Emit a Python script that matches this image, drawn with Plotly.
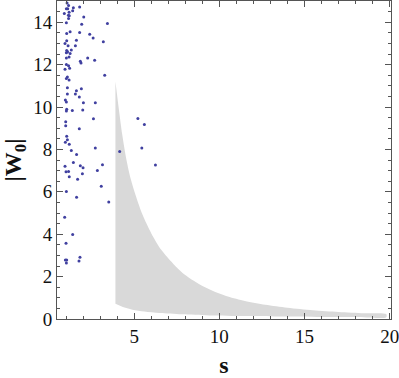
import plotly.graph_objects as go

# scatter points (s, |W0|)
pts_s = [1.06, 1.15, 1.02, 1.10, 1.43, 1.80, 1.39, 1.18, 0.90, 1.14, 1.19, 2.04, 1.15, 1.02, 1.92,
         3.43, 1.24, 1.04, 1.80, 2.39, 2.59, 1.61, 1.04, 3.19, 0.94, 1.12, 1.55, 1.31, 1.04, 1.09,
         1.02, 1.24, 1.18, 1.02, 2.27, 2.68, 1.84, 1.88, 1.02, 1.15, 1.21, 0.94, 3.27, 1.08, 1.02,
         1.18, 1.08, 1.90, 1.61, 1.08, 1.55, 1.78, 0.96, 1.02, 2.02, 2.72, 1.04, 1.02, 1.37, 1.98,
         2.61, 5.22, 5.60, 0.98, 0.98, 1.78, 1.04, 1.08, 0.96, 1.19, 2.72, 4.15, 5.45, 1.31, 1.62,
         6.25, 3.14, 3.07, 0.94, 1.43, 1.84, 2.00, 1.00, 1.15, 1.96, 2.84, 1.19, 1.68, 1.02, 1.62,
         3.51, 0.92, 1.39, 1.00, 0.96, 1.04, 1.02, 1.82, 1.76]
pts_w = [14.91, 14.79, 14.63, 14.63, 14.68, 14.72, 14.54, 14.47, 14.41, 14.33, 14.30, 14.24, 14.18, 13.97, 13.90,
         13.94, 13.55, 13.47, 13.52, 13.43, 13.25, 13.15, 13.13, 13.08, 12.99, 12.89, 12.89, 12.69, 12.66, 12.61,
         12.56, 12.52, 12.36, 12.31, 12.31, 12.21, 12.16, 12.08, 12.00, 11.95, 11.83, 11.78, 11.50, 11.41, 11.34,
         11.27, 10.91, 10.86, 10.77, 10.61, 10.61, 10.47, 10.33, 10.23, 10.20, 10.20, 9.89, 9.81, 9.83, 9.86,
         9.45, 9.46, 9.18, 9.31, 9.11, 8.97, 8.62, 8.46, 8.34, 8.24, 8.07, 7.90, 8.07, 7.95, 7.76,
         7.27, 7.28, 6.26, 7.20, 7.38, 7.23, 7.14, 6.95, 6.96, 6.85, 7.01, 6.71, 6.59, 6.01, 5.74,
         5.52, 4.80, 3.99, 3.57, 2.78, 2.78, 2.64, 2.91, 2.74]

# shaded region boundaries
upper_s = [3.9, 4.1, 4.3, 4.55, 4.8, 5.1, 5.5, 6.0, 6.6, 7.3, 8.0, 8.8, 9.6, 10.5, 11.5, 12.7, 14.0, 15.5, 17.0, 18.5, 19.8]
upper_w = [11.2, 9.9, 8.7, 7.5, 6.6, 5.8, 4.9, 4.05, 3.25, 2.6, 2.07, 1.65, 1.33, 1.06, 0.85, 0.67, 0.53, 0.41, 0.33, 0.27, 0.23]
lower_s = [3.9, 4.3, 4.9, 5.6, 6.5, 7.8, 9.4, 11.5, 13.5, 16.0, 18.0, 19.8]
lower_w = [0.72, 0.58, 0.44, 0.35, 0.28, 0.22, 0.17, 0.14, 0.12, 0.10, 0.09, 0.085]

x_ticks = [5, 10, 15, 20]
y_ticks = [0, 2, 4, 6, 8, 10, 12, 14]

fig = go.Figure()
fig.add_trace(go.Scatter(
    x=upper_s + lower_s[::-1], y=upper_w + lower_w[::-1],
    fill="toself", fillcolor="#d9d9d9", mode="lines",
    line=dict(width=0, color="#d9d9d9", shape="spline", smoothing=0.8), hoverinfo="skip"))
fig.add_trace(go.Scatter(
    x=pts_s, y=pts_w, mode="markers",
    marker=dict(size=3, color="#4040a0")))

axis_common = dict(
    showgrid=False, zeroline=False, showline=True, linecolor="#555555", linewidth=1,
    mirror="allticks", ticks="inside", tickcolor="#555555", ticklen=6, tickwidth=1,
    ticklabeloverflow="allow",
    tickfont=dict(family="Liberation Serif", size=19, color="#111111"),
)
fig.update_xaxes(range=[0.47, 20.08], tickvals=x_ticks,
                 minor=dict(dtick=1, tick0=0, ticks="inside", ticklen=3, tickcolor="#555555"),
                 title=dict(text="<b>s</b>", font=dict(family="Liberation Serif", size=24, color="#111111"), standoff=10),
                 **axis_common)
fig.update_yaxes(range=[0, 15], tickvals=y_ticks,
                 minor=dict(dtick=0.5, tick0=0, ticks="inside", ticklen=3, tickcolor="#555555"),
                 title=dict(text="<b>|W<sub>0</sub>|</b>", font=dict(family="Liberation Serif", size=24, color="#111111"), standoff=6),
                 **axis_common)
fig.update_layout(
    width=399, height=378, showlegend=False,
    plot_bgcolor="white", paper_bgcolor="white",
    margin=dict(l=57, r=8, t=1, b=59, autoexpand=False),
)
fig.write_html("out.html", config={"displayModeBar": False},
               post_script="document.body.style.margin='0';")
